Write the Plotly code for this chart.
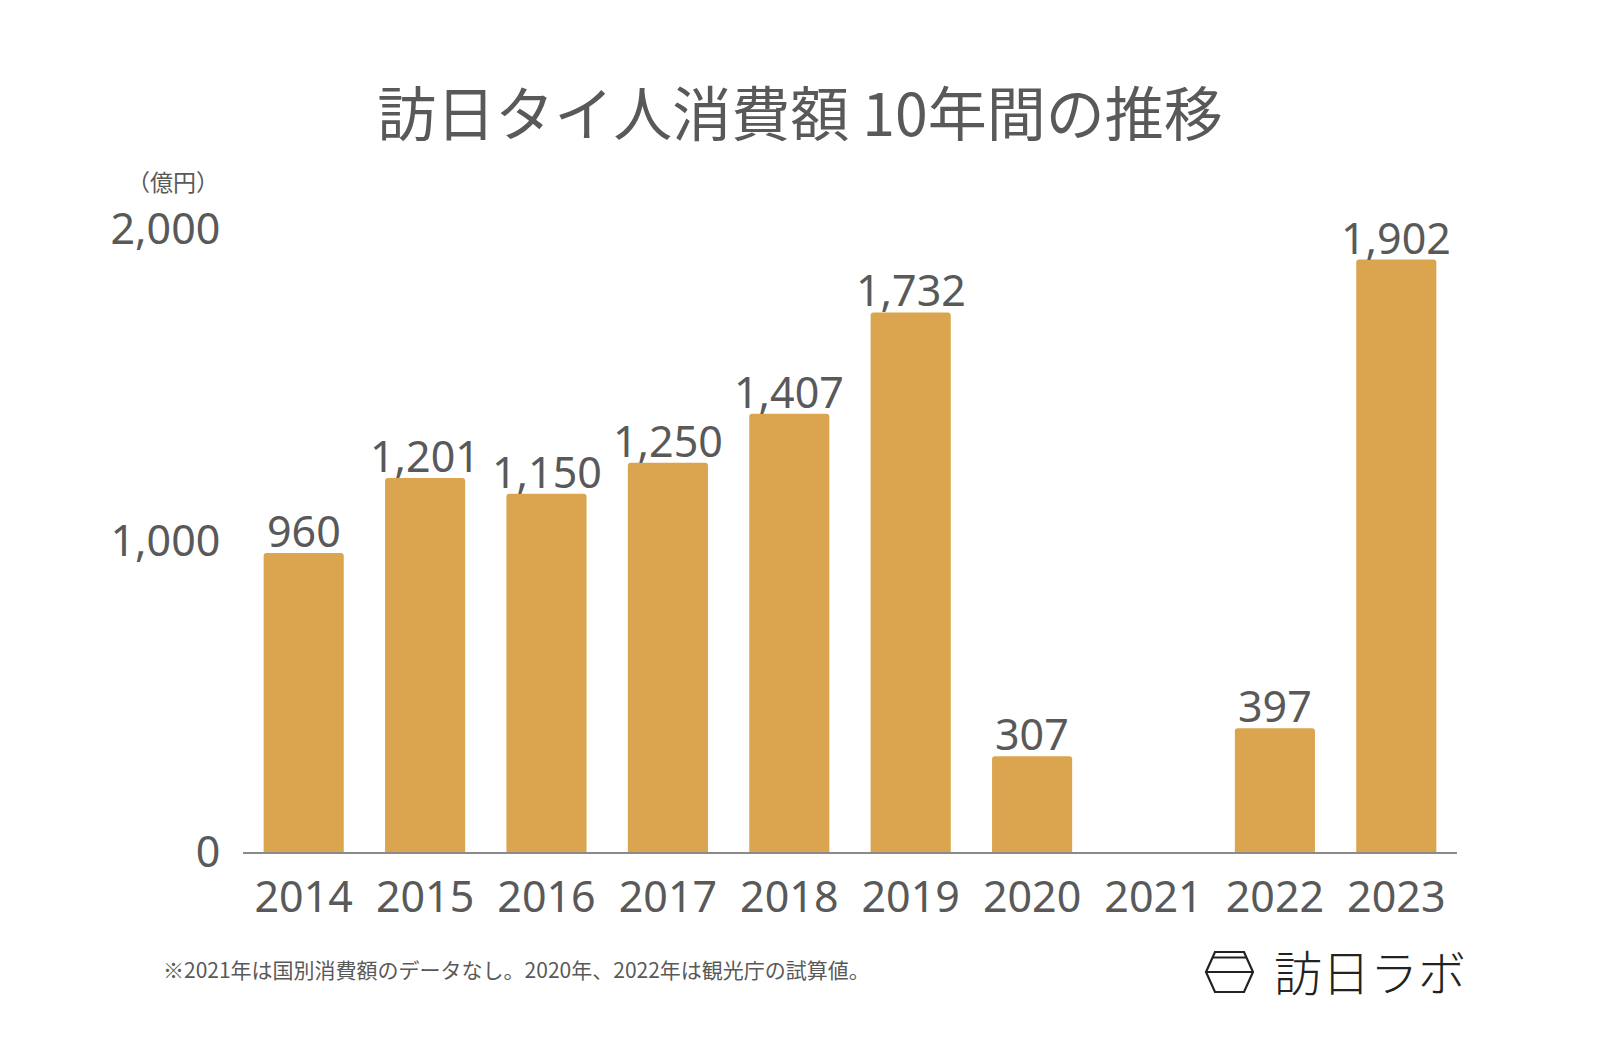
import plotly.graph_objects as go

years = ["2014", "2015", "2016", "2017", "2018", "2019", "2020", "2021", "2022", "2023"]
spending = [960, 1201, 1150, 1250, 1407, 1732, 307, None, 397, 1902]
labels = ["960", "1,201", "1,150", "1,250", "1,407", "1,732", "307", "", "397", "1,902"]
y_ticks = [0, 1000, 2000]
y_ticktext = ["0", "1,000", "2,000"]

title_text = "訪日タイ人消費額 10年間の推移"
unit_text = "（億円）"
note_text = "※2021年は国別消費額のデータなし。2020年、2022年は観光庁の試算値。"
logo_text = "訪日ラボ"

OFF = 8  # page body margin
W, H = 1600, 1048
L, T = 243 - OFF, 229 - OFF
R = W - (1457 - OFF)
B = H - (852 - OFF)
PW, PH = W - L - R, H - T - B

def px(x):
    return (x - OFF - L) / PW

def py(y):
    return (H - B - (y - OFF)) / PH

BAR = "#DBA54F"
TXT = "#595959"
FONT = "Noto Sans, Noto Sans CJK JP, sans-serif"
CJK = "Noto Sans CJK JP, sans-serif"

fig = go.Figure()
fig.add_trace(go.Bar(
    x=years, y=spending,
    marker=dict(color=BAR, line=dict(width=0)),
    cliponaxis=False, hoverinfo="skip",
))

# value labels: category axis positions are the category indices
for i, (val, lab) in enumerate(zip(spending, labels)):
    if val is None:
        continue
    fig.add_annotation(x=i, y=val, xref="x", yref="y", text=lab, showarrow=False,
                       xanchor="center", yanchor="bottom", yshift=-9,
                       font=dict(size=43, color=TXT, family=FONT))

fig.update_layout(
    width=W, height=H,
    margin=dict(l=L, r=R, t=T, b=B),
    paper_bgcolor="white", plot_bgcolor="white",
    bargap=0.34, barcornerradius=3,
    showlegend=False,
    font=dict(family=FONT, color=TXT),
    title=dict(text=title_text, x=(800 - OFF) / W, xanchor="center", xref="container",
               y=1 - (115 - OFF) / H, yanchor="middle", yref="container",
               font=dict(size=59, color=TXT, family=CJK)),
    xaxis=dict(type="category", categoryorder="array", categoryarray=years,
               range=[-0.5, len(years) - 0.5],
               showgrid=False, showline=True, linecolor="#8a8a8a", linewidth=1.5,
               ticks="outside", ticklen=7, tickcolor="rgba(0,0,0,0)",
               tickfont=dict(size=43, color=TXT, family=FONT), fixedrange=True),
    yaxis=dict(range=[0, 2000], showgrid=False, zeroline=False, showline=False,
               tickvals=y_ticks, ticktext=y_ticktext,
               ticks="outside", ticklen=13, tickcolor="rgba(0,0,0,0)",
               tickfont=dict(size=43, color=TXT, family=FONT), fixedrange=True),
)

fig.add_annotation(text=unit_text, xref="paper", yref="paper", x=px(221), y=py(181),
                   xanchor="right", yanchor="middle", showarrow=False,
                   font=dict(size=23, color=TXT, family=CJK))
fig.add_annotation(text=note_text, xref="paper", yref="paper", x=px(161), y=py(969),
                   xanchor="left", yanchor="middle", showarrow=False,
                   font=dict(size=21, color=TXT, family=CJK))
fig.add_annotation(text=logo_text, xref="paper", yref="paper", x=px(1272), y=py(970),
                   xanchor="left", yanchor="middle", showarrow=False,
                   font=dict(size=48, color="#222222", family=CJK, weight=300))

# logo hexagon
hx = [(1206, 972), (1215, 952), (1244, 952), (1253, 972), (1244, 992), (1215, 992)]
path = "M " + " L ".join(f"{px(a)},{py(b)}" for a, b in hx) + " Z"
fig.add_shape(type="path", path=path, xref="paper", yref="paper",
              line=dict(color="#222222", width=2.2))
fig.add_shape(type="line", xref="paper", yref="paper", x0=px(1212.8), x1=px(1246.2),
              y0=py(957.5), y1=py(957.5), line=dict(color="#222222", width=2.2))
fig.add_shape(type="line", xref="paper", yref="paper", x0=px(1206), x1=px(1253),
              y0=py(972), y1=py(972), line=dict(color="#222222", width=2.2))

fig.write_html("out.html")
